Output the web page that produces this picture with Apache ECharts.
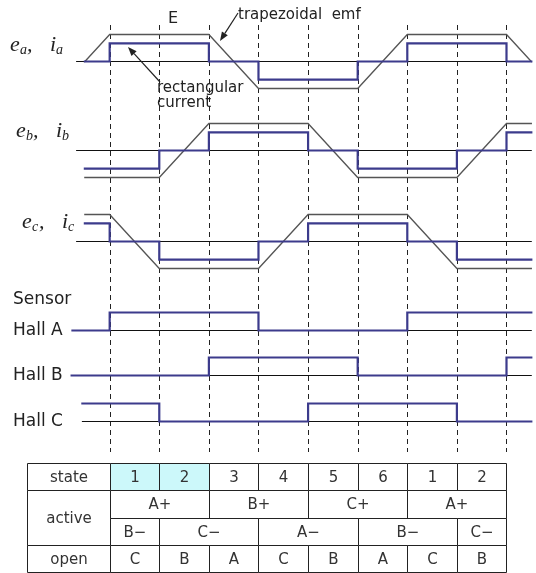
<!DOCTYPE html>
<html><head><meta charset="utf-8">
<script src="https://cdn.jsdelivr.net/npm/echarts@6/dist/echarts.min.js"></script>
<style>html,body{margin:0;padding:0;background:#fff}#c{width:536px;height:573px}</style>
</head><body><div id="c"></div>
<script>
// ---- data (electrical degrees; state boundaries every 60 deg) ----
const stateBoundaries = [0, 60, 120, 180, 240, 300, 360, 420, 480];

const emfA = [[-30,0],[0,1],[120,1],[180,-1],[300,-1],[360,1],[480,1],[510,0]];
const curA = [[-30,0],[0,0],[0,0.67],[120,0.67],[120,0],[180,0],[180,-0.67],[300,-0.67],[300,0],[360,0],[360,0.67],[480,0.67],[480,0],[510,0]];
const baseA = [[-40,0],[510,0]];

const emfB = [[-30,-1],[60,-1],[120,1],[240,1],[300,-1],[420,-1],[480,1],[510,1]];
const curB = [[-30,-0.67],[60,-0.67],[60,0],[120,0],[120,0.67],[240,0.67],[240,0],[300,0],[300,-0.67],[420,-0.67],[420,0],[480,0],[480,0.67],[510,0.67]];
const baseB = [[-40,0],[510,0]];

const emfC = [[-30,1],[0,1],[60,-1],[180,-1],[240,1],[360,1],[420,-1],[510,-1]];
const curC = [[-30,0.67],[0,0.67],[0,0],[60,0],[60,-0.67],[180,-0.67],[180,0],[240,0],[240,0.67],[360,0.67],[360,0],[420,0],[420,-0.67],[510,-0.67]];
const baseC = [[-40,0],[510,0]];

const hallA = [[-45,0],[0,0],[0,1],[180,1],[180,0],[360,0],[360,1],[510,1]];
const hallABase = [[-45,0],[510,0]];
const hallB = [[-46,0],[120,0],[120,1],[300,1],[300,0],[480,0],[480,1],[510,1]];
const hallBBase = [[-46,0],[510,0]];
const hallC = [[-33,1],[60,1],[60,0],[240,0],[240,1],[420,1],[420,0],[510,0]];
const hallCBase = [[-33,0],[510,0]];

// table
const rowHeaders = ['state', 'active', 'open'];
const stateLabels = ['1','2','3','4','5','6','1','2'];
const highlightedStates = [0, 1];
const activePlus = [['A+',0,120],['B+',120,240],['C+',240,360],['A+',360,480]];
const activeMinus = [['B\u2212',0,60],['C\u2212',60,180],['A\u2212',180,300],['B\u2212',300,420],['C\u2212',420,480]];
const openPhase = ['C','B','A','C','B','A','C','B'];

// ---- layout ----
const X_MIN = -100, X_MAX = 510;
const GL = 27, GR = 4.7;
const BLUE = '#3c3b8c', GRAY = '#555', BLACK = '#111';
const SANS = '"DejaVu Sans", sans-serif';

const grids = [
  {top: 25, height: 427},      // 0 dashed state lines
  {top: 29.1, height: 64.8},   // 1 phase a
  {top: 118.1, height: 64.8},  // 2 phase b
  {top: 209.1, height: 64.8},  // 3 phase c
  {top: 307.1, height: 28.8},  // 4 hall A
  {top: 352.1, height: 28.8},  // 5 hall B
  {top: 398.1, height: 28.8},  // 6 hall C
  {top: 463, height: 109}      // 7 table
].map(g => Object.assign({left: GL, right: GR, containLabel: false, show: false}, g));

const yRanges = [[0,1],[-1.2,1.2],[-1.2,1.2],[-1.2,1.2],[-0.3,1.3],[-0.3,1.3],[-0.3,1.3],[0,4]];
const xAxes = grids.map((g,i) => ({gridIndex: i, type: 'value', min: X_MIN, max: X_MAX, show: false}));
const yAxes = yRanges.map((r,i) => ({gridIndex: i, type: 'value', min: r[0], max: r[1], show: false, inverse: i === 7}));

function line(gi, data, color, width, z) {
  return {type: 'line', xAxisIndex: gi, yAxisIndex: gi, data: data, symbol: 'none', showSymbol: false,
    clip: false, silent: true, animation: false, z: z,
    lineStyle: {color: color, width: width, cap: 'square', join: 'miter'}};
}

const series = [];
// dashed state boundaries
series.push({
  type: 'custom', xAxisIndex: 0, yAxisIndex: 0, silent: true, animation: false, z: 1,
  data: stateBoundaries.map(v => [v, 0]), encode: {x: 0, y: 1},
  renderItem: (p, api) => {
    const a = api.coord([api.value(0), 1]);
    const b = api.coord([api.value(0), 0]);
    const x = Math.round(a[0]) + 0.5;
    return {type: 'line', shape: {x1: x, y1: a[1], x2: x, y2: b[1]},
      style: {stroke: '#222', lineWidth: 1, lineDash: [5, 4]}};
  }
});
[[1, baseA, emfA, curA], [2, baseB, emfB, curB], [3, baseC, emfC, curC]].forEach(([gi, base, emf, cur]) => {
  series.push(line(gi, base, BLACK, 1, 2));
  series.push(line(gi, emf, GRAY, 1.3, 3));
  series.push(line(gi, cur, BLUE, 2.2, 4));
});
[[4, hallABase, hallA], [5, hallBBase, hallB], [6, hallCBase, hallC]].forEach(([gi, base, h]) => {
  series.push(line(gi, base, BLACK, 1, 2));
  series.push(line(gi, h, BLUE, 2.2, 4));
});

// table cells: [x0, x1, y0, y1], text, fill
const cells = [];
cells.push({r: [X_MIN, 0, 0, 1], t: rowHeaders[0]});
cells.push({r: [X_MIN, 0, 1, 3], t: rowHeaders[1]});
cells.push({r: [X_MIN, 0, 3, 4], t: rowHeaders[2]});
stateLabels.forEach((s, i) => cells.push({r: [stateBoundaries[i], stateBoundaries[i+1], 0, 1], t: s,
  f: highlightedStates.indexOf(i) >= 0 ? '#ccf8fa' : '#fff'}));
activePlus.forEach(a => cells.push({r: [a[1], a[2], 1, 2], t: a[0]}));
activeMinus.forEach(a => cells.push({r: [a[1], a[2], 2, 3], t: a[0]}));
openPhase.forEach((s, i) => cells.push({r: [stateBoundaries[i], stateBoundaries[i+1], 3, 4], t: s}));

series.push({
  type: 'custom', xAxisIndex: 7, yAxisIndex: 7, silent: true, animation: false, z: 5,
  data: cells.map(c => c.r), encode: {x: [0, 1], y: [2, 3]},
  renderItem: (p, api) => {
    const c = cells[p.dataIndex];
    const p0 = api.coord([api.value(0), api.value(2)]);
    const p1 = api.coord([api.value(1), api.value(3)]);
    const x0 = Math.round(p0[0]) + 0.5, x1 = Math.round(p1[0]) + 0.5;
    const y0 = Math.round(p0[1]) + 0.5, y1 = Math.round(p1[1]) + 0.5;
    return {type: 'group', children: [
      {type: 'rect', shape: {x: x0, y: y0, width: x1 - x0, height: y1 - y0},
        style: {fill: c.f || '#fff', stroke: '#222', lineWidth: 1}},
      {type: 'text', style: {text: c.t, x: (x0 + x1) / 2, y: (y0 + y1) / 2 + 1, align: 'center', verticalAlign: 'middle',
        font: '15px ' + SANS, fill: '#333'}}
    ]};
  }
});

// ---- annotations ----
const graphics = [];
function txt(x, y, s, font, opts) {
  graphics.push(Object.assign({type: 'text', z: 10, silent: true,
    style: Object.assign({text: s, x: x, y: y, font: font, fill: '#222', align: 'left', verticalAlign: 'middle'}, opts || {})}));
}
function mathLabel(x, y, sub) {
  const big = 'italic 22px "Liberation Serif", serif';
  const small = 'italic 14px "Liberation Serif", serif';
  txt(x, y, 'e', big);
  txt(x + 10, y + 5, sub, small);
  txt(x + 17, y, ',', big);
  txt(x + 40, y, 'i', big);
  txt(x + 46, y + 5, sub, small);
}
mathLabel(10, 45, 'a');
mathLabel(16, 131, 'b');
mathLabel(22, 222, 'c');

txt(168, 19, 'E', '16px ' + SANS);
txt(238, 15, 'trapezoidal  emf', '15px ' + SANS);
txt(157, 88, 'rectangular', '15px ' + SANS);
txt(157, 103, 'current', '15px ' + SANS);
txt(13, 300, 'Sensor', '17px ' + SANS);
txt(13, 331, 'Hall A', '17px ' + SANS);
txt(13, 376, 'Hall B', '17px ' + SANS);
txt(13, 422, 'Hall C', '17px ' + SANS);

function arrow(x1, y1, x2, y2) {
  const dx = x2 - x1, dy = y2 - y1, L = Math.hypot(dx, dy);
  const ux = dx / L, uy = dy / L, px = -uy, py = ux;
  const hl = 9, hw = 3.5;
  const bx = x2 - ux * hl, by = y2 - uy * hl;
  graphics.push({type: 'line', z: 10, silent: true, shape: {x1: x1, y1: y1, x2: bx, y2: by},
    style: {stroke: '#222', lineWidth: 1.2}});
  graphics.push({type: 'polygon', z: 10, silent: true,
    shape: {points: [[x2, y2], [bx + px * hw, by + py * hw], [bx - px * hw, by - py * hw]]},
    style: {fill: '#222'}});
}
arrow(238, 13, 220, 41);
arrow(160, 82, 128, 47);

const chart = echarts.init(document.getElementById('c'), null, {renderer: 'canvas'});
chart.setOption({
  animation: false,
  backgroundColor: '#fff',
  grid: grids,
  xAxis: xAxes,
  yAxis: yAxes,
  series: series,
  graphic: graphics
});
</script>
</body></html>
